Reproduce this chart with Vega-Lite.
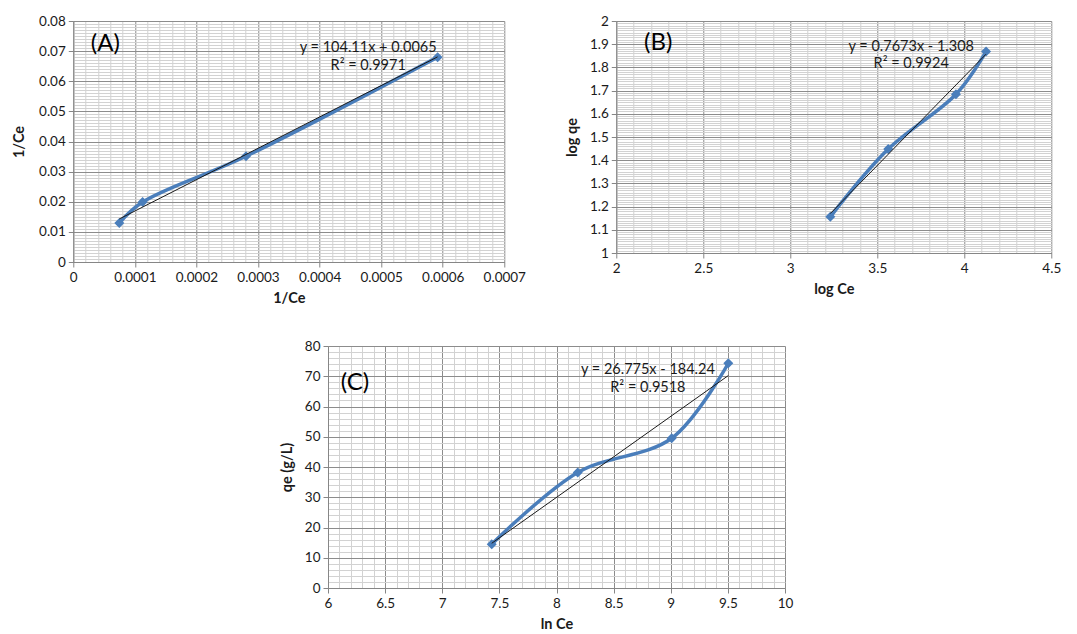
{
  "$schema": "https://vega.github.io/schema/vega-lite/v6.json",
  "background": "white",
  "padding": {"left": 11, "top": 14, "right": 5, "bottom": 0},
  "config": {
    "view": {"stroke": null},
    "font": "Lato",
    "axis": {
      "labelFont": "Lato", "labelFontSize": 13.5, "labelColor": "#1a1a1a",
      "titleFont": "Lato", "titleFontSize": 14.5, "titleFontWeight": "bold", "titleColor": "#1a1a1a",
      "domainColor": "#868686", "tickColor": "#868686", "tickSize": 5, "labelPadding": 3,
      "labelOverlap": false, "labelFlush": false, "grid": true, "gridWidth": 1, "tickCount": 1000
    }
  },
  "datasets": {
    "A_pts": [
      {"x": 0.0000747, "y": 0.01295},
      {"x": 0.0001126, "y": 0.0199},
      {"x": 0.0002805, "y": 0.0351},
      {"x": 0.0005917, "y": 0.068}
    ],
    "A_fit": [
      {"x": 0.0000747, "y": 0.01428},
      {"x": 0.0005917, "y": 0.0681}
    ],
    "A_txt": [
      {"x": 0.000052, "y": 0.0724, "t": "(A)", "k": "label"},
      {"x": 0.000479, "y": 0.0710, "t": "y = 104.11x + 0.0065", "k": "eq"},
      {"x": 0.000479, "y": 0.0651, "t": "R² = 0.9971", "k": "eq"}
    ],
    "B_pts": [
      {"x": 3.230, "y": 1.156},
      {"x": 3.563, "y": 1.448},
      {"x": 3.952, "y": 1.684},
      {"x": 4.125, "y": 1.868}
    ],
    "B_fit": [
      {"x": 3.230, "y": 1.170},
      {"x": 4.125, "y": 1.857}
    ],
    "B_txt": [
      {"x": 2.241, "y": 1.905, "t": "(B)", "k": "label"},
      {"x": 3.695, "y": 1.888, "t": "y = 0.7673x - 1.308", "k": "eq"},
      {"x": 3.695, "y": 1.815, "t": "R² = 0.9924", "k": "eq"}
    ],
    "C_pts": [
      {"x": 7.433, "y": 14.5},
      {"x": 8.186, "y": 38.2},
      {"x": 9.008, "y": 49.5},
      {"x": 9.504, "y": 74.3}
    ],
    "C_fit": [
      {"x": 7.433, "y": 14.78},
      {"x": 9.504, "y": 70.23}
    ],
    "C_txt": [
      {"x": 6.236, "y": 67.8, "t": "(C)", "k": "label"},
      {"x": 8.80, "y": 72.1, "t": "y = 26.775x - 184.24", "k": "eq"},
      {"x": 8.80, "y": 66.1, "t": "R² = 0.9518", "k": "eq"}
    ]
  },
  "center": true,
  "spacing": 34,
  "vconcat": [
    {
      "spacing": 38,
      "hconcat": [
        {
          "width": 431, "height": 241,
          "layer": [
            {
              "data": {"name": "A_pts"},
              "mark": {"type": "line", "interpolate": "catmull-rom", "color": "#4a7ebb", "strokeWidth": 3.5},
              "encoding": {
                "x": {"field": "x", "type": "quantitative", "scale": {"domain": [0, 0.0007], "nice": false, "zero": false},
                  "axis": {"title": "1/Ce", "titlePadding": 8, "tickCount": 1000,
                    "values": [0,0.00002,0.00004,0.00006,0.00008,0.0001,0.00012,0.00014,0.00016,0.00018,0.0002,0.00022,0.00024,0.00026,0.00028,0.0003,0.00032,0.00034,0.00036,0.00038,0.0004,0.00042,0.00044,0.00046,0.00048,0.0005,0.00052,0.00054,0.00056,0.00058,0.0006,0.00062,0.00064,0.00066,0.00068,0.0007],
                    "labelExpr": "abs(datum.value*10000-round(datum.value*10000))<0.01 ? format(datum.value,'~g') : ''",
                    "gridColor": {"condition": {"test": "abs(datum.value*10000-round(datum.value*10000))<0.01", "value": "#8c8c8c"}, "value": "#d2d2d2"},
                    "tickOpacity": {"condition": {"test": "abs(datum.value*10000-round(datum.value*10000))<0.01", "value": 1}, "value": 0}}},
                "y": {"field": "y", "type": "quantitative", "scale": {"domain": [0, 0.08], "nice": false, "zero": false},
                  "axis": {"title": "1/Ce", "titlePadding": 12, "tickCount": 1000,
                    "values": [0,0.001,0.002,0.003,0.004,0.005,0.006,0.007,0.008,0.009,0.01,0.011,0.012,0.013,0.014,0.015,0.016,0.017,0.018,0.019,0.02,0.021,0.022,0.023,0.024,0.025,0.026,0.027,0.028,0.029,0.03,0.031,0.032,0.033,0.034,0.035,0.036,0.037,0.038,0.039,0.04,0.041,0.042,0.043,0.044,0.045,0.046,0.047,0.048,0.049,0.05,0.051,0.052,0.053,0.054,0.055,0.056,0.057,0.058,0.059,0.06,0.061,0.062,0.063,0.064,0.065,0.066,0.067,0.068,0.069,0.07,0.071,0.072,0.073,0.074,0.075,0.076,0.077,0.078,0.079,0.08],
                    "labelExpr": "abs(datum.value*100-round(datum.value*100))<0.01 ? format(datum.value,'~g') : ''",
                    "gridColor": {"condition": {"test": "abs(datum.value*100-round(datum.value*100))<0.01", "value": "#8c8c8c"}, "value": "#d2d2d2"},
                    "tickOpacity": {"condition": {"test": "abs(datum.value*100-round(datum.value*100))<0.01", "value": 1}, "value": 0}}}
              }
            },
            {
              "data": {"name": "A_pts"},
              "mark": {"type": "point", "shape": "diamond", "filled": true, "size": 100, "color": "#4a7ebb", "opacity": 1},
              "encoding": {"x": {"field": "x", "type": "quantitative"}, "y": {"field": "y", "type": "quantitative"}}
            },
            {
              "data": {"name": "A_fit"},
              "mark": {"type": "line", "color": "#1a1a1a", "strokeWidth": 1},
              "encoding": {"x": {"field": "x", "type": "quantitative"}, "y": {"field": "y", "type": "quantitative"}}
            },
            {
              "data": {"name": "A_txt"},
              "transform": [{"filter": "datum.k == 'eq'"}],
              "mark": {"type": "text", "font": "Lato", "fontSize": 14.5, "color": "#1a1a1a", "align": "center", "baseline": "middle"},
              "encoding": {"x": {"field": "x", "type": "quantitative"}, "y": {"field": "y", "type": "quantitative"}, "text": {"field": "t"}}
            },
            {
              "data": {"name": "A_txt"},
              "transform": [{"filter": "datum.k == 'label'"}],
              "mark": {"type": "text", "font": "Lato", "fontSize": 24, "color": "#000000", "align": "center", "baseline": "middle"},
              "encoding": {"x": {"field": "x", "type": "quantitative"}, "y": {"field": "y", "type": "quantitative"}, "text": {"field": "t"}}
            }
          ]
        },
        {
          "width": 435, "height": 232,
          "layer": [
            {
              "data": {"name": "B_pts"},
              "mark": {"type": "line", "interpolate": "catmull-rom", "color": "#4a7ebb", "strokeWidth": 3.5},
              "encoding": {
                "x": {"field": "x", "type": "quantitative", "scale": {"domain": [2, 4.5], "nice": false, "zero": false},
                  "axis": {"title": "log Ce", "titlePadding": 8, "tickCount": 1000,
                    "values": [2,2.1,2.2,2.3,2.4,2.5,2.6,2.7,2.8,2.9,3,3.1,3.2,3.3,3.4,3.5,3.6,3.7,3.8,3.9,4,4.1,4.2,4.3,4.4,4.5],
                    "labelExpr": "abs(datum.value*2-round(datum.value*2))<0.01 ? format(datum.value,'~g') : ''",
                    "gridColor": {"condition": {"test": "abs(datum.value*2-round(datum.value*2))<0.01", "value": "#8c8c8c"}, "value": "#d2d2d2"},
                    "tickOpacity": {"condition": {"test": "abs(datum.value*2-round(datum.value*2))<0.01", "value": 1}, "value": 0}}},
                "y": {"field": "y", "type": "quantitative", "scale": {"domain": [1, 2], "nice": false, "zero": false},
                  "axis": {"title": "log qe", "titlePadding": 10, "tickCount": 1000,
                    "values": [1,1.01,1.02,1.03,1.04,1.05,1.06,1.07,1.08,1.09,1.1,1.11,1.12,1.13,1.14,1.15,1.16,1.17,1.18,1.19,1.2,1.21,1.22,1.23,1.24,1.25,1.26,1.27,1.28,1.29,1.3,1.31,1.32,1.33,1.34,1.35,1.36,1.37,1.38,1.39,1.4,1.41,1.42,1.43,1.44,1.45,1.46,1.47,1.48,1.49,1.5,1.51,1.52,1.53,1.54,1.55,1.56,1.57,1.58,1.59,1.6,1.61,1.62,1.63,1.64,1.65,1.66,1.67,1.68,1.69,1.7,1.71,1.72,1.73,1.74,1.75,1.76,1.77,1.78,1.79,1.8,1.81,1.82,1.83,1.84,1.85,1.86,1.87,1.88,1.89,1.9,1.91,1.92,1.93,1.94,1.95,1.96,1.97,1.98,1.99,2],
                    "labelExpr": "abs(datum.value*10-round(datum.value*10))<0.01 ? format(datum.value,'~g') : ''",
                    "gridColor": {"condition": {"test": "abs(datum.value*10-round(datum.value*10))<0.01", "value": "#8c8c8c"}, "value": "#d2d2d2"},
                    "tickOpacity": {"condition": {"test": "abs(datum.value*10-round(datum.value*10))<0.01", "value": 1}, "value": 0}}}
              }
            },
            {
              "data": {"name": "B_pts"},
              "mark": {"type": "point", "shape": "diamond", "filled": true, "size": 100, "color": "#4a7ebb", "opacity": 1},
              "encoding": {"x": {"field": "x", "type": "quantitative"}, "y": {"field": "y", "type": "quantitative"}}
            },
            {
              "data": {"name": "B_fit"},
              "mark": {"type": "line", "color": "#1a1a1a", "strokeWidth": 1},
              "encoding": {"x": {"field": "x", "type": "quantitative"}, "y": {"field": "y", "type": "quantitative"}}
            },
            {
              "data": {"name": "B_txt"},
              "transform": [{"filter": "datum.k == 'eq'"}],
              "mark": {"type": "text", "font": "Lato", "fontSize": 14.5, "color": "#1a1a1a", "align": "center", "baseline": "middle"},
              "encoding": {"x": {"field": "x", "type": "quantitative"}, "y": {"field": "y", "type": "quantitative"}, "text": {"field": "t"}}
            },
            {
              "data": {"name": "B_txt"},
              "transform": [{"filter": "datum.k == 'label'"}],
              "mark": {"type": "text", "font": "Lato", "fontSize": 24, "color": "#000000", "align": "center", "baseline": "middle"},
              "encoding": {"x": {"field": "x", "type": "quantitative"}, "y": {"field": "y", "type": "quantitative"}, "text": {"field": "t"}}
            }
          ]
        }
      ]
    },
    {
      "width": 457, "height": 242,
      "resolve": {"axis": {"y": "independent"}},
      "layer": [
        {
          "data": {"name": "C_pts"},
          "mark": {"type": "line", "interpolate": "catmull-rom", "color": "#4a7ebb", "strokeWidth": 3.5},
          "encoding": {
            "x": {"field": "x", "type": "quantitative", "scale": {"domain": [6, 10], "nice": false, "zero": false},
              "axis": {"title": "ln Ce", "titlePadding": 8, "tickCount": 1000,
                "values": [6,6.1,6.2,6.3,6.4,6.5,6.6,6.7,6.8,6.9,7,7.1,7.2,7.3,7.4,7.5,7.6,7.7,7.8,7.9,8,8.1,8.2,8.3,8.4,8.5,8.6,8.7,8.8,8.9,9,9.1,9.2,9.3,9.4,9.5,9.6,9.7,9.8,9.9,10],
                "labelExpr": "abs(datum.value*2-round(datum.value*2))<0.01 ? format(datum.value,'~g') : ''",
                "gridColor": {"condition": {"test": "abs(datum.value*2-round(datum.value*2))<0.01", "value": "#8c8c8c"}, "value": "#d2d2d2"},
                "tickOpacity": {"condition": {"test": "abs(datum.value*2-round(datum.value*2))<0.01", "value": 1}, "value": 0}}},
            "y": {"field": "y", "type": "quantitative", "scale": {"domain": [0, 80], "nice": false, "zero": false},
              "axis": {"title": "qe (g/L)", "titlePadding": 10, "tickCount": 1000, "orient": "left",
                "values": [0,2,4,6,8,10,12,14,16,18,20,22,24,26,28,30,32,34,36,38,40,42,44,46,48,50,52,54,56,58,60,62,64,66,68,70,72,74,76,78,80],
                "labelExpr": "abs(datum.value/10-round(datum.value/10))<0.01 ? format(datum.value,'~g') : ''",
                "gridColor": {"condition": {"test": "abs(datum.value/10-round(datum.value/10))<0.01", "value": "#8c8c8c"}, "value": "#d2d2d2"},
                "tickOpacity": {"condition": {"test": "abs(datum.value/10-round(datum.value/10))<0.01", "value": 1}, "value": 0}}}
          }
        },
        {
          "data": {"name": "C_pts"},
          "mark": {"type": "point", "shape": "diamond", "filled": true, "size": 100, "color": "#4a7ebb", "opacity": 1},
          "encoding": {"x": {"field": "x", "type": "quantitative"}, "y": {"field": "y", "type": "quantitative",
            "axis": {"orient": "right", "grid": false, "labels": false, "ticks": false, "domain": false, "title": null, "minExtent": 21, "maxExtent": 21}}}
        },
        {
          "data": {"name": "C_fit"},
          "mark": {"type": "line", "color": "#1a1a1a", "strokeWidth": 1},
          "encoding": {"x": {"field": "x", "type": "quantitative"}, "y": {"field": "y", "type": "quantitative", "axis": null}}
        },
        {
          "data": {"name": "C_txt"},
          "transform": [{"filter": "datum.k == 'eq'"}],
          "mark": {"type": "text", "font": "Lato", "fontSize": 14.5, "color": "#1a1a1a", "align": "center", "baseline": "middle"},
          "encoding": {"x": {"field": "x", "type": "quantitative"}, "y": {"field": "y", "type": "quantitative", "axis": null}, "text": {"field": "t"}}
        },
        {
          "data": {"name": "C_txt"},
          "transform": [{"filter": "datum.k == 'label'"}],
          "mark": {"type": "text", "font": "Lato", "fontSize": 24, "color": "#000000", "align": "center", "baseline": "middle"},
          "encoding": {"x": {"field": "x", "type": "quantitative"}, "y": {"field": "y", "type": "quantitative", "axis": null}, "text": {"field": "t"}}
        }
      ]
    }
  ]
}
